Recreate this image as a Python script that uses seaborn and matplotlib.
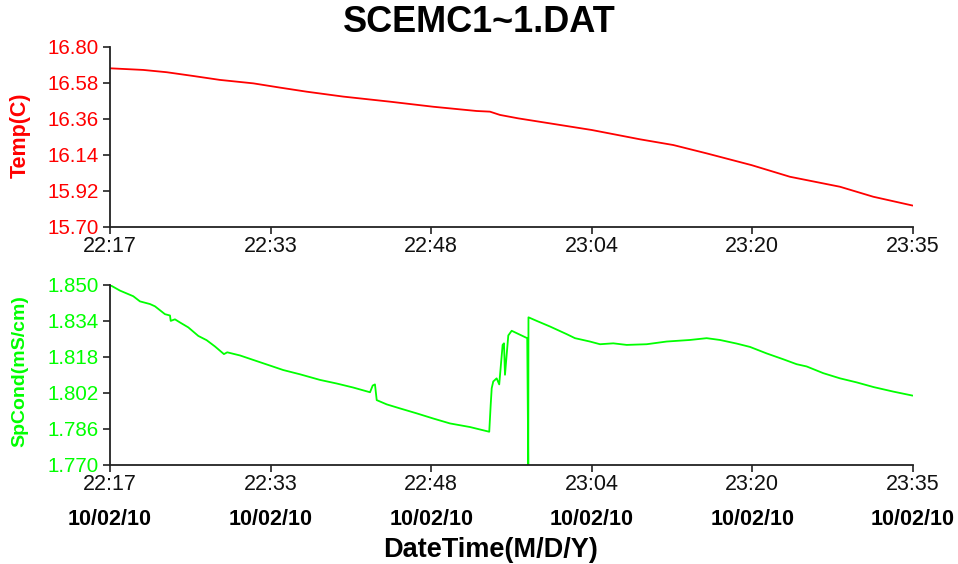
import numpy as np
import pandas as pd
import matplotlib
matplotlib.use("Agg")
import matplotlib.pyplot as plt
import seaborn as sns

# ---------------- data (minutes elapsed since first record) ----------------
title = "SCEMC1~1.DAT"
x_label = "DateTime(M/D/Y)"
temp_label = "Temp(C)"
cond_label = "SpCond(mS/cm)"

time_tick_labels = ["22:17", "22:33", "22:48", "23:04", "23:20", "23:35"]
date_tick_labels = ["10/02/10"] * 6
time_span = (0.0, 78.0)

temp_min = [0.00, 3.23, 5.51, 8.09, 10.68, 13.92, 16.51, 19.11, 22.66, 27.20,
            31.40, 35.62, 36.91, 37.88, 39.66, 46.79, 51.48, 54.72, 57.96,
            62.33, 66.05, 70.91, 74.14, 77.97]
temp_val = [16.668, 16.658, 16.644, 16.621, 16.597, 16.576, 16.550, 16.525,
            16.495, 16.464, 16.433, 16.407, 16.403, 16.383, 16.362, 16.291,
            16.234, 16.199, 16.148, 16.076, 16.005, 15.944, 15.883, 15.829]
temp_range = (15.70, 16.80)

cond_min = [0.00, 0.97, 2.26, 2.91, 3.89, 4.37, 5.34, 5.83, 5.90, 6.31, 6.80,
            7.61, 8.58, 9.39, 10.20, 11.07, 11.39, 12.63, 13.92, 15.54, 16.83,
            18.46, 20.40, 22.02, 23.63, 25.26, 25.52, 25.74, 25.91, 26.88,
            28.17, 29.79, 31.40, 33.03, 34.97, 36.84, 36.98, 37.08, 37.23,
            37.56, 37.81, 38.14, 38.27, 38.37, 38.69, 39.02, 40.53, 40.63,
            40.65, 41.45, 42.74, 44.36, 45.17, 46.62, 47.60, 48.89, 50.19,
            52.13, 54.07, 56.34, 57.96, 59.25, 60.87, 62.17, 63.79, 65.40,
            66.70, 67.67, 69.29, 70.91, 72.53, 74.18, 76.08, 77.97]
cond_val = [1.8500, 1.8475, 1.8450, 1.8427, 1.8415, 1.8405, 1.8370, 1.8364,
            1.8340, 1.8347, 1.8333, 1.8311, 1.8273, 1.8254, 1.8226, 1.8192,
            1.8200, 1.8186, 1.8166, 1.8141, 1.8121, 1.8102, 1.8077, 1.8061,
            1.8043, 1.8022, 1.8052, 1.8057, 1.7987, 1.7968, 1.7950, 1.7928,
            1.7905, 1.7883, 1.7867, 1.7846, 1.7965, 1.8040, 1.8070, 1.8084,
            1.8057, 1.8233, 1.8240, 1.8100, 1.8275, 1.8296, 1.8263, 1.7700,
            1.8356, 1.8340, 1.8315, 1.8281, 1.8263, 1.8248, 1.8236, 1.8240,
            1.8233, 1.8236, 1.8248, 1.8255, 1.8263, 1.8255, 1.8239, 1.8224,
            1.8195, 1.8169, 1.8147, 1.8137, 1.8107, 1.8084, 1.8066, 1.8045,
            1.8025, 1.8007]
cond_range = (1.770, 1.850)

temp_df = pd.DataFrame({"t": temp_min, "v": temp_val})
cond_df = pd.DataFrame({"t": cond_min, "v": cond_val})

# ---------------- styling ----------------
sns.set_theme(style="white")
plt.rcParams["font.family"] = ["Liberation Sans", "DejaVu Sans"]

RED = "#ff0000"
GREEN = "#00ff00"
AXC = "#222222"

fig = plt.figure(figsize=(9.58, 5.64), dpi=100)
ax1 = fig.add_axes([0.1148, 0.5981, 0.8382, 0.3191])
ax2 = fig.add_axes([0.1148, 0.1764, 0.8382, 0.3183])

sns.lineplot(data=temp_df, x="t", y="v", ax=ax1, color=RED, linewidth=1.3,
             estimator=None, sort=False)
sns.lineplot(data=cond_df, x="t", y="v", ax=ax2, color=GREEN, linewidth=1.3,
             estimator=None, sort=False)

xticks = np.linspace(time_span[0], time_span[1], len(time_tick_labels))

for ax, rng, col, fmt in [(ax1, temp_range, RED, "{:.2f}"),
                          (ax2, cond_range, GREEN, "{:.3f}")]:
    ax.set_xlim(*time_span)
    ax.set_ylim(*rng)
    yt = np.linspace(rng[0], rng[1], 6)
    ax.set_yticks(yt)
    ax.set_yticklabels([fmt.format(v) for v in yt], color=col, fontsize=14.8)
    ax.set_xticks(xticks)
    ax.set_xticklabels(time_tick_labels, fontsize=15.5, color="#111111")
    ax.set_xlabel("")
    ax.set_ylabel("")
    sns.despine(ax=ax)
    for s in ["left", "bottom"]:
        ax.spines[s].set_color(AXC)
        ax.spines[s].set_linewidth(1.3)
    ax.tick_params(axis="both", which="major", length=5, width=1.2,
                   color=AXC, direction="out", bottom=True, left=True)
    ax.tick_params(axis="y", pad=3)
    ax.tick_params(axis="x", pad=2)
    ax.grid(False)

# date labels under the bottom axis
sec = ax2.secondary_xaxis("bottom")
sec.set_xticks(xticks)
sec.set_xticklabels(date_tick_labels, fontsize=15.5, fontweight="bold",
                    color="black")
sec.tick_params(length=0, pad=32)
sec.spines["bottom"].set_visible(False)

fig.text(0.5, 1 - 22 / 564, title, ha="center", va="center",
         fontsize=26, fontweight="bold", color="black")
fig.text(491 / 958, 1 - 550 / 564, x_label, ha="center", va="center",
         fontsize=19.5, fontweight="bold", color="black")
fig.text(20 / 958, 1 - 135 / 564, temp_label, ha="center", va="center",
         rotation=90, fontsize=15.5, fontweight="bold", color=RED)
fig.text(20 / 958, 1 - 371 / 564, cond_label, ha="center", va="center",
         rotation=90, fontsize=14, fontweight="bold", color=GREEN)

fig.savefig("out.png", dpi=100)
